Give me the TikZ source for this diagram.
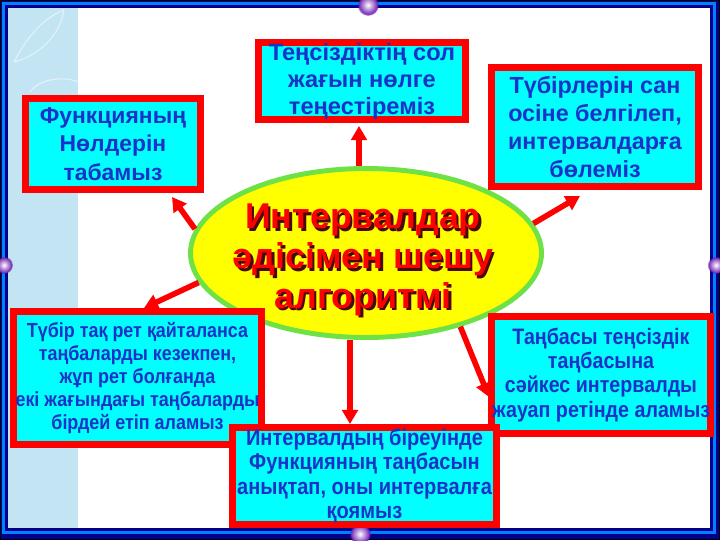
\documentclass[tikz,border=0pt]{standalone}
\usepackage{fontspec}
\setmainfont{Liberation Sans}
\newfontfamily\narrowfont[FakeStretch=0.88]{Liberation Sans}
\usetikzlibrary{shapes, arrows.meta, fadings}
\definecolor{boxcyan}{RGB}{0,255,255}
\definecolor{boxred}{RGB}{255,0,0}
\definecolor{textblue}{RGB}{25,50,200}
\definecolor{ovalgreen}{RGB}{110,225,70}
\definecolor{ovalyellow}{RGB}{255,255,0}
\definecolor{stripblue}{RGB}{195,228,242}
\definecolor{stripline}{RGB}{225,242,250}
\definecolor{framedark}{RGB}{0,0,140}
\definecolor{framebright}{RGB}{0,130,255}
\definecolor{titleshadow}{RGB}{70,10,10}
\newcommand{\unitpx}{0.025cm}

\begin{document}
\begin{tikzpicture}[x=0.025cm, y=-0.025cm]
  \tikzstyle{infobox} = [rectangle, draw=boxred, fill=boxcyan, line width=5pt, text=textblue, align=center, inner sep=0pt]
  \tikzstyle{titlefont} = [align=center, font=\bfseries\fontsize{25.5}{28.3}\selectfont]
  \tikzstyle{connector} = [draw=boxred, line width=4pt, -{Triangle[length=10pt, width=11pt]}]
  \tikzstyle{flare} = [inner color=white, outer color=violet!70!blue, path fading=circle with fuzzy edge 20 percent]
  \useasboundingbox (0,0) rectangle (720,540);
  % frame and background
  \fill[black] (0,0) rectangle (720,540);
  \fill[framedark] (1,1) rectangle (719,539);
  \draw[framebright, line width=2pt] (3.5,3.5) rectangle (714.5,532.5);
  \fill[white] (8,8) rectangle (710,528);
  \fill[stripblue] (8,8) rectangle (78,528);
  \draw[stripline, line width=0.8pt] (14,62) .. controls (30,30) and (50,15) .. (64,10);
  \draw[stripline, line width=0.8pt] (14,62) .. controls (40,55) and (60,35) .. (64,10);
  \draw[stripline, line width=0.8pt] (30,92) .. controls (40,78) and (65,76) .. (78,82);
  \shade[flare] (368,5) circle (11);
  \shade[flare] (360,534) circle (11);
  \shade[flare] (4,265) circle (9);
  \shade[flare] (716,265) circle (9);
  % central oval
  \node[ellipse, draw=ovalgreen, line width=3.5pt, fill=ovalyellow, minimum width={351*\unitpx}, minimum height={169*\unitpx}, inner sep=0pt] (title) at (366,253) {};
  \node[titlefont, text=titleshadow] (titleshade) at (365.5,262.5) {Интервалдар\\әдісімен шешу\\алгоритмі};
  \node[titlefont, text=boxred] (titletext) at (363,260) {Интервалдар\\әдісімен шешу\\алгоритмі};
  % boxes
  \node[infobox, font=\bfseries\fontsize{16.8}{19.2}\selectfont, minimum width={207*\unitpx}, minimum height={77*\unitpx}] (zerobox) at (362,81) {Теңсіздіктің сол\\жағын нөлге\\теңестіреміз};
  \node[infobox, font=\bfseries\fontsize{16.3}{20.5}\selectfont, minimum width={175*\unitpx}, minimum height={91*\unitpx}] (rootsbox) at (113,144) {Функцияның\\Нөлдерін\\табамыз};
  \node[infobox, font=\bfseries\fontsize{16.6}{19.8}\selectfont, minimum width={207*\unitpx}, minimum height={119*\unitpx}] (axisbox) at (595,127) {Түбірлерін сан\\осіне белгілеп,\\интервалдарға\\бөлеміз};
  \node[infobox, font=\narrowfont\bfseries\fontsize{14.5}{16.3}\selectfont, minimum width={248*\unitpx}, minimum height={133*\unitpx}] (multbox) at (137.5,378) {Түбір тақ рет қайталанса\\таңбаларды кезекпен,\\жұп рет болғанда\\екі жағындағы таңбаларды\\бірдей етіп аламыз};
  \node[infobox, font=\narrowfont\bfseries\fontsize{15.9}{17.2}\selectfont, minimum width={215*\unitpx}, minimum height={117*\unitpx}] (answerbox) at (601,375) {Таңбасы теңсіздік\\таңбасына\\сәйкес интервалды\\жауап ретінде аламыз};
  \node[infobox, font=\narrowfont\bfseries\fontsize{16.2}{17.4}\selectfont, minimum width={264*\unitpx}, minimum height={97*\unitpx}] (signbox) at (364.5,476) {Интервалдың біреуінде\\Функцияның таңбасын\\анықтап, оны интервалға\\қоямыз};
  % arrows
  \coordinate (toptip) at (359,126);
  \coordinate (lefttip) at (172,197);
  \coordinate (lowlefttip) at (144,308);
  \coordinate (righttip) at (580,196);
  \coordinate (midtip) at (350,424);
  \coordinate (lowrighttip) at (489,397);
  \path [connector] (toptip |- title.north) -- (toptip);
  \path [connector] (title.172) -- (lefttip);
  \path [connector] (title.190) -- (lowlefttip);
  \path [connector] (title.10) -- (righttip);
  \path [connector] (midtip |- title.south) -- (midtip);
  \path [connector] (title.-38) -- (lowrighttip);
\end{tikzpicture}
\end{document}
